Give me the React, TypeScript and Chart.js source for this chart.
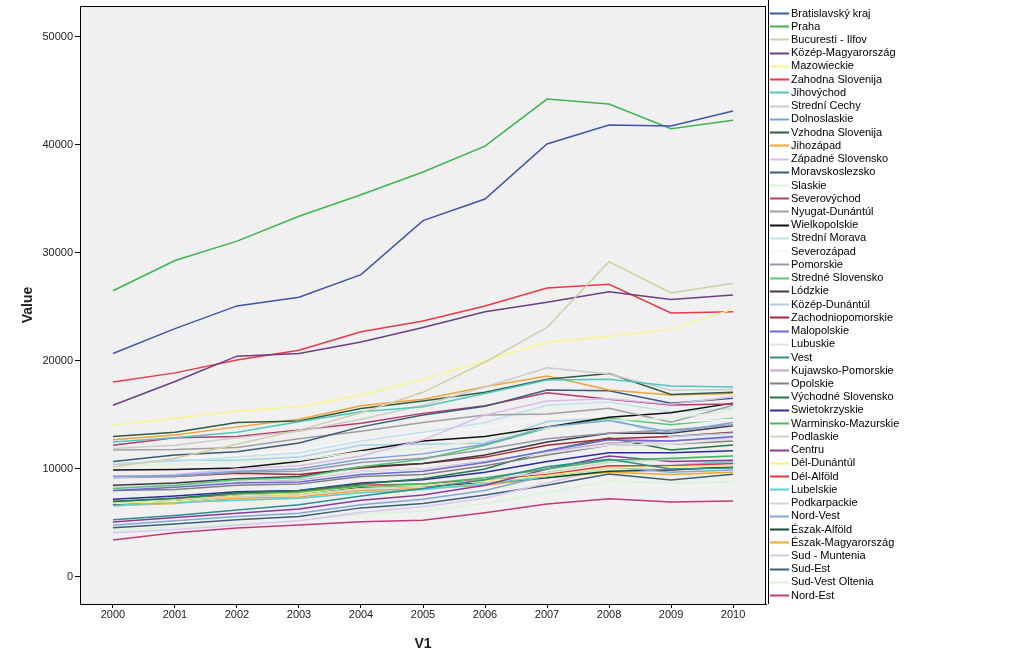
import React, { useEffect, useRef } from "react";
import { Chart, registerables } from "chart.js";

Chart.register(...registerables);

const years = [2000, 2001, 2002, 2003, 2004, 2005, 2006, 2007, 2008, 2009, 2010];
const yTicks = [0, 10000, 20000, 30000, 40000, 50000];

const regionNames = [
  "Bratislavský kraj", "Praha", "Bucuresti - Ilfov", "Közép-Magyarország", "Mazowieckie",
  "Zahodna Slovenija", "Jihovýchod", "Strední Cechy", "Dolnoslaskie", "Vzhodna Slovenija",
  "Jihozápad", "Západné Slovensko", "Moravskoslezsko", "Slaskie", "Severovýchod",
  "Nyugat-Dunántúl", "Wielkopolskie", "Strední Morava", "Severozápad", "Pomorskie",
  "Stredné Slovensko", "Lódzkie", "Közép-Dunántúl", "Zachodniopomorskie", "Malopolskie",
  "Lubuskie", "Vest", "Kujawsko-Pomorskie", "Opolskie", "Východné Slovensko",
  "Swietokrzyskie", "Warminsko-Mazurskie", "Podlaskie", "Centru", "Dél-Dunántúl",
  "Dél-Alföld", "Lubelskie", "Podkarpackie", "Nord-Vest", "Észak-Alföld",
  "Észak-Magyarország", "Sud - Muntenia", "Sud-Est", "Sud-Vest Oltenia", "Nord-Est",
];

const bratislava = [20700, 23000, 25100, 25900, 28000, 33000, 35000, 40100, 41850, 41750, 43150];
const praha = [26500, 29300, 31100, 33400, 35400, 37500, 39900, 44250, 43800, 41500, 42300];
const bucuresti = [10200, 11000, 12300, 13600, 15200, 17100, 19900, 23100, 29200, 26300, 27200];
const kozepMagyarorszag = [15900, 18100, 20450, 20700, 21750, 23100, 24550, 25450, 26400, 25700, 26100];
const mazowieckie = [14070, 14700, 15370, 15770, 16850, 18300, 20000, 21750, 22300, 22950, 24800];
const zahodnaSlovenija = [18050, 18900, 20100, 21000, 22700, 23700, 25100, 26750, 27100, 24450, 24550];
const jihovychod = [12500, 12900, 13400, 14380, 15300, 15770, 17000, 18240, 18300, 17680, 17590];
const stredniCechy = [11900, 12200, 12900, 13500, 14600, 15900, 17600, 19380, 18800, 17300, 17350];
const dolnoslaskie = [9300, 9400, 9800, 10000, 10900, 11400, 12300, 13900, 14500, 13400, 14300];
const vzhodnaSlovenija = [13000, 13400, 14300, 14450, 15600, 16300, 17100, 18300, 18850, 16900, 17100];
const jihozapad = [12700, 13150, 13900, 14600, 15860, 16450, 17620, 18610, 17310, 16850, 17000];
const zapadneSlovensko = [9200, 9500, 10000, 10300, 11200, 12700, 15000, 16300, 16500, 16000, 16700];
const moravskoslezsko = [10700, 11300, 11600, 12400, 13900, 15000, 15800, 17310, 17250, 16080, 16540];
const slaskie = [10300, 10400, 10700, 10800, 11600, 11900, 12700, 13800, 14500, 14700, 15400];
const severovychod = [12200, 12900, 13000, 13600, 14230, 15150, 15860, 17070, 16450, 15920, 16020];
const nyugatDunantul = [11760, 11800, 12000, 12800, 13500, 14300, 15000, 15090, 15620, 14320, 15900];
const wielkopolskie = [9900, 9950, 10100, 10700, 11700, 12600, 13000, 13900, 14800, 15200, 16100];
const stredniMorava = [10500, 10700, 11100, 11500, 12600, 13400, 14300, 15900, 16200, 15300, 15600];
const severozapad = [10800, 11000, 11300, 11700, 12700, 13200, 13800, 14800, 15000, 14300, 14600];
const pomorskie = [9200, 9300, 9700, 9800, 10600, 11000, 11800, 12800, 13300, 13600, 14100];
const stredneSlovensko = [8200, 8500, 9000, 9200, 10200, 10900, 12200, 13800, 14700, 14100, 14700];
const lodzkie = [8500, 8700, 9100, 9300, 10200, 10500, 11300, 12500, 13300, 13300, 14000];
const kozepDunantul = [10400, 10800, 10800, 11100, 12200, 12300, 12400, 14400, 14700, 13000, 13300];
const zachodniopomorskie = [9300, 9300, 9600, 9500, 10100, 10500, 11100, 12200, 12800, 13000, 13400];
const malopolskie = [8000, 8300, 8700, 8800, 9500, 9800, 10600, 11700, 12700, 12600, 13000];
const lubuskie = [8300, 8500, 8900, 9100, 9800, 10000, 10600, 11500, 12200, 12300, 12800];
const vest = [5300, 5700, 6200, 6700, 7500, 8200, 9000, 10200, 10900, 10000, 10100];
const kujawskoPomorskie = [8300, 8500, 8900, 9000, 9800, 10000, 10700, 11600, 12400, 12600, 12900];
const opolskie = [8000, 8100, 8500, 8600, 9300, 9500, 10300, 11300, 12200, 12300, 12600];
const vychodneSlovensko = [7000, 7300, 7800, 8000, 8600, 9100, 10000, 11700, 12870, 11760, 12220];
const swietokrzyskie = [7200, 7500, 7900, 8000, 8700, 9000, 9700, 10700, 11500, 11500, 11700];
const warminskoMazurskie = [7000, 7300, 7700, 7900, 8400, 8600, 9200, 10000, 10800, 11000, 11200];
const podlaskie = [6900, 7200, 7400, 7600, 8200, 8400, 9000, 9700, 10600, 10900, 11200];
const centru = [5100, 5500, 5900, 6300, 7100, 7600, 8500, 10000, 11200, 10700, 10800];
const delDunantul = [6800, 7000, 7500, 7700, 8400, 8500, 8900, 9400, 10100, 10200, 10300];
const delAlfold = [7000, 7200, 7700, 7900, 8500, 8600, 9000, 9500, 10300, 10300, 10500];
const lubelskie = [6600, 6900, 7100, 7300, 7800, 8100, 8600, 9300, 10100, 10300, 10700];
const podkarpackie = [6600, 6900, 7100, 7300, 7800, 8100, 8700, 9400, 10200, 10400, 10800];
const nordVest = [4800, 5200, 5600, 5900, 6700, 7200, 8000, 9400, 10200, 9700, 9900];
const eszakAlfold = [6700, 7000, 7500, 7700, 8300, 8400, 8700, 9200, 9800, 9900, 10200];
const eszakMagyarorszag = [6600, 6800, 7300, 7400, 8000, 8200, 8500, 9200, 9700, 9500, 9700];
const sudMuntenia = [4100, 4400, 4800, 5200, 6000, 6500, 7300, 8700, 10100, 9900, 10200];
const sudEst = [4550, 4900, 5300, 5600, 6400, 6800, 7600, 8500, 9540, 8980, 9510];
const sudVestOltenia = [4300, 4600, 4900, 5200, 5800, 6100, 6800, 7800, 8900, 8700, 8800];
const nordEst = [3430, 4100, 4530, 4810, 5120, 5250, 5950, 6760, 7250, 6940, 7040];

const seriesValues = [
  bratislava, praha, bucuresti, kozepMagyarorszag, mazowieckie,
  zahodnaSlovenija, jihovychod, stredniCechy, dolnoslaskie, vzhodnaSlovenija,
  jihozapad, zapadneSlovensko, moravskoslezsko, slaskie, severovychod,
  nyugatDunantul, wielkopolskie, stredniMorava, severozapad, pomorskie,
  stredneSlovensko, lodzkie, kozepDunantul, zachodniopomorskie, malopolskie,
  lubuskie, vest, kujawskoPomorskie, opolskie, vychodneSlovensko,
  swietokrzyskie, warminskoMazurskie, podlaskie, centru, delDunantul,
  delAlfold, lubelskie, podkarpackie, nordVest, eszakAlfold,
  eszakMagyarorszag, sudMuntenia, sudEst, sudVestOltenia, nordEst,
];

const seriesColors = [
  "#3d56a8", "#3cb54c", "#d3cda6", "#6e3e84", "#f7f58a",
  "#e8394a", "#4ec8be", "#cccccc", "#7aa3d6", "#2e5e40",
  "#f2a33a", "#d8bcec", "#3a5a78", "#dff0d8", "#b83a6a",
  "#a0a0a0", "#111111", "#bfe3ea", "#f6f6f6", "#9898a8",
  "#52c878", "#3c3c44", "#a8cfe6", "#a82838", "#6a6ad8",
  "#e2e2e2", "#2a9090", "#c8a6cc", "#808080", "#1f7a48",
  "#2c2c9a", "#40b860", "#d4d4c0", "#8a3a9a", "#f8f07c",
  "#e23445", "#5cd0d0", "#d4d4d4", "#80a8da", "#0e4a30",
  "#f0a828", "#d8c8f0", "#3e5e76", "#d8f2d8", "#c03a78",
];

const FONT = "'Liberation Sans', Arial, sans-serif";

const framePlugin = {
  id: "frameAndLegend",
  beforeDraw(chart: any) {
    const { ctx, chartArea } = chart;
    ctx.save();
    ctx.fillStyle = "#ffffff";
    ctx.fillRect(0, 0, chart.width, chart.height);
    ctx.fillStyle = "#f0f0f0";
    ctx.fillRect(chartArea.left, chartArea.top, chartArea.right - chartArea.left, chartArea.bottom - chartArea.top);
    ctx.restore();
  },
  afterDraw(chart: any) {
    const { ctx, chartArea } = chart;
    ctx.save();
    ctx.strokeStyle = "#000000";
    ctx.lineWidth = 1;
    ctx.strokeRect(chartArea.left + 0.5, chartArea.top + 0.5, chartArea.right - chartArea.left - 1, chartArea.bottom - chartArea.top);
    ctx.beginPath();
    ctx.moveTo(768.5, 0);
    ctx.lineTo(768.5, 604);
    ctx.stroke();
    ctx.font = "11px " + FONT;
    ctx.textBaseline = "middle";
    ctx.textAlign = "left";
    chart.data.datasets.forEach((ds: any, i: number) => {
      const y = 13 + i * 13.23;
      ctx.strokeStyle = ds.borderColor;
      ctx.lineWidth = 2;
      ctx.beginPath();
      ctx.moveTo(770, Math.round(y) + 0.5);
      ctx.lineTo(789, Math.round(y) + 0.5);
      ctx.stroke();
      ctx.fillStyle = "#000000";
      ctx.fillText(ds.label, 791, y + 0.5);
    });
    ctx.restore();
  },
};

export default function App() {
  const canvasRef = useRef<HTMLCanvasElement | null>(null);

  useEffect(() => {
    document.body.style.margin = "0";
    const canvas = canvasRef.current;
    if (!canvas) return;
    const datasets = seriesValues.map((vals, i) => ({
      label: regionNames[i],
      data: vals.map((v, j) => ({ x: years[j], y: v })),
      borderColor: seriesColors[i],
      backgroundColor: seriesColors[i],
      borderWidth: 1.5,
      pointRadius: 0,
      pointHoverRadius: 0,
      tension: 0,
      fill: false,
    }));
    const chart = new Chart(canvas, {
      type: "line",
      data: { datasets },
      plugins: [framePlugin],
      options: {
        responsive: false,
        animation: false,
        maintainAspectRatio: false,
        layout: { padding: { left: 0, top: 6, right: 258, bottom: 0 } },
        plugins: { legend: { display: false }, tooltip: { enabled: false } },
        scales: {
          x: {
            type: "linear",
            min: 1999.468,
            max: 2010.532,
            afterFit: (scale: any) => { scale.height = 63; scale.paddingLeft = 0; scale.paddingRight = 0; },
            afterBuildTicks: (scale: any) => { scale.ticks = years.map((y) => ({ value: y })); },
            ticks: {
              callback: (v: any) => String(v),
              color: "#222222",
              font: { family: FONT, size: 11 },
              padding: 0,
              maxRotation: 0,
              autoSkip: false,
            },
            grid: { drawOnChartArea: false, drawTicks: true, tickLength: 4, color: "#000000" },
            border: { display: true, color: "#000000" },
            title: {
              display: true,
              text: "V1",
              color: "#222222",
              font: { family: FONT, size: 14, weight: "bold" },
              padding: { top: 0, bottom: 14 },
            },
          },
          y: {
            type: "linear",
            min: -2500,
            max: 52870,
            afterFit: (scale: any) => { scale.width = 80; scale.paddingTop = 0; scale.paddingBottom = 0; },
            afterBuildTicks: (scale: any) => { scale.ticks = yTicks.map((v) => ({ value: v })); },
            ticks: {
              callback: (v: any) => String(v),
              color: "#222222",
              font: { family: FONT, size: 11 },
              padding: 2,
            },
            grid: { drawOnChartArea: false, drawTicks: true, tickLength: 5, color: "#000000" },
            border: { display: true, color: "#000000" },
            title: {
              display: true,
              text: "Value",
              color: "#222222",
              font: { family: FONT, size: 14, weight: "bold" },
              padding: { top: 19.6, bottom: 0 },
            },
          },
        },
      },
    } as any);
    return () => chart.destroy();
  }, []);

  return (
    <div style={{ position: "fixed", left: 0, top: 0, width: 1024, height: 667, background: "#ffffff" }}>
      <canvas ref={canvasRef} width={1024} height={667} style={{ width: 1024, height: 667, display: "block" }} />
    </div>
  );
}
